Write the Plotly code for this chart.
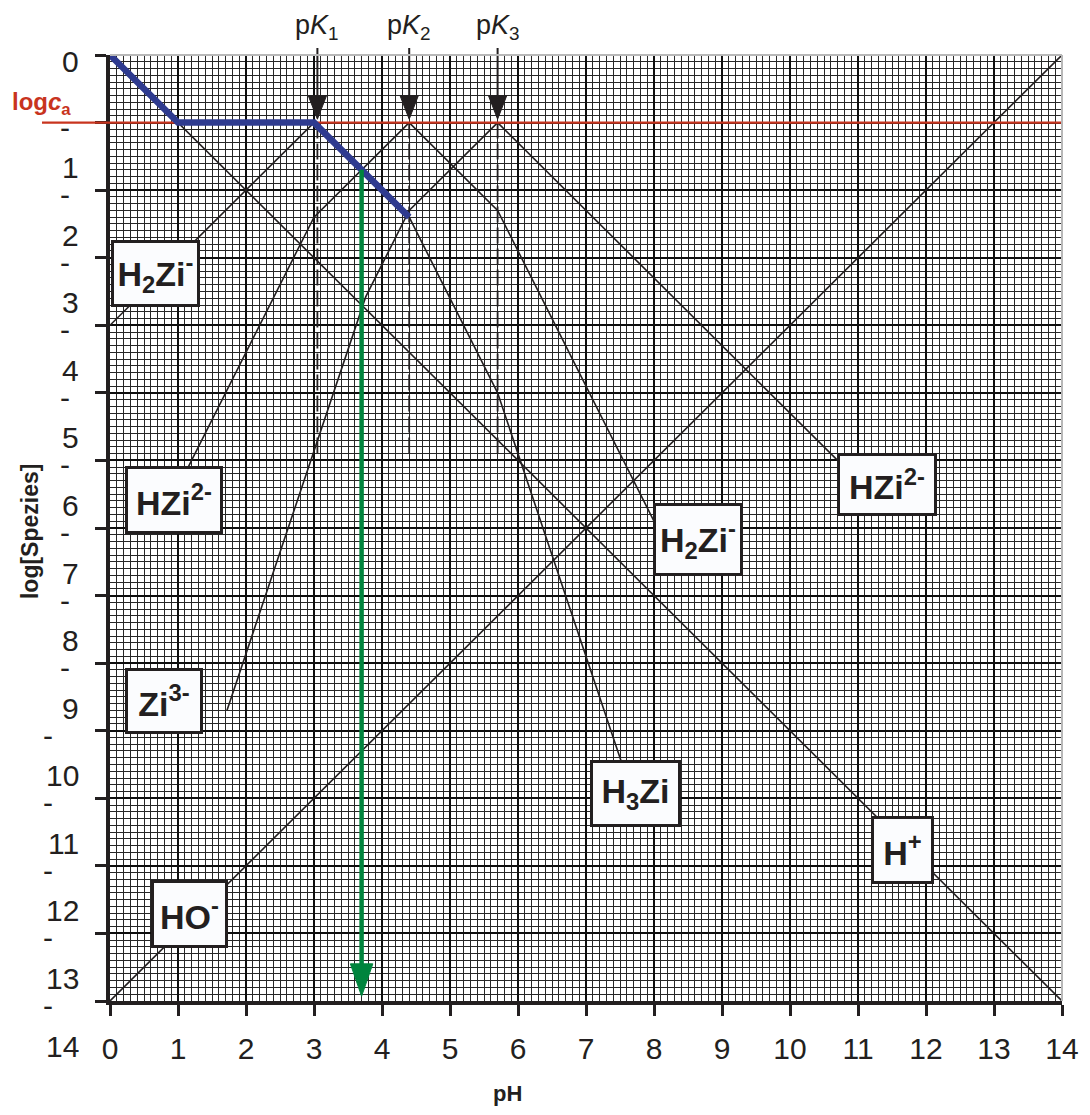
import plotly.graph_objects as go

# ---------------- data ----------------
pK = [3.0, 4.4, 5.7]                # pK1, pK2, pK3 (break points of the lines)
pk_arrow_x = [3.05, 4.4, 5.7]       # where the pK arrows / dashed markers stand
pk_names = ["1", "2", "3"]
log_ca = 1.0                        # log c_a level (drawn as depth 1)
pk_dash_bottom = 5.93               # lower end of dashed pK markers

x_tick_vals = list(range(0, 15))
y_tick_vals = list(range(0, 15))
y_tick_labels = [str(n) for n in range(0, 15)]

# blue: log c(H+) curve of the titration up to pK2
blue_x = [0.0, 1.0, 3.0, 4.4]
blue_y = [0.0, 1.0, 1.0, 2.4]

# species lines (black)
hplus_x = [0.0, 14.0]
hplus_y = [0.0, 14.0]
oh_x = [0.0, 14.0]
oh_y = [14.0, 0.0]
h3zi_x = [4.4, 5.7, 7.7]
h3zi_y = [2.4, 5.0, 11.0]
h2zi_left_x = [0.0, 3.0]
h2zi_left_y = [4.0, 1.0]
h2zi_right_x = [4.4, 5.7, 8.1]
h2zi_right_y = [1.0, 2.3, 7.1]
hzi_left_x = [4.4, 3.0, 1.1]
hzi_left_y = [1.0, 2.4, 6.2]
hzi_right_x = [5.7, 10.9]
hzi_right_y = [1.0, 6.2]
zi_x = [5.7, 4.4, 3.76, 1.72]
zi_y = [1.0, 2.3, 3.58, 9.7]

# green arrow (pH of the ampholyte)
green_x = (pK[0] + pK[1]) / 2
green_top = log_ca + (green_x - pK[0])
green_tip = 13.93

# species label boxes: text, x, y, width(px), height(px)
label_text = ["H<sub>2</sub>Zi<sup>-</sup>", "HZi<sup>2-</sup>", "Zi<sup>3-</sup>", "HO<sup>-</sup>",
              "H<sub>3</sub>Zi", "H<sup>+</sup>", "H<sub>2</sub>Zi<sup>-</sup>", "HZi<sup>2-</sup>"]
label_x = [0.676, 0.934, 0.80, 1.176, 7.735, 11.66, 8.65, 11.42]
label_y = [3.24, 6.58, 9.56, 12.71, 10.93, 11.76, 7.17, 6.36]
label_w = [86, 95, 75, 74, 88, 60, 87, 97]
label_h = [64, 65, 63, 65, 64, 65, 70, 60]

# ---------------- layout constants ----------------
W, H = 1090, 1115
ML, MR, MT, MB = 110, 28, 55, 114
PW, PH = W - ML - MR, H - MT - MB
Y_MAX = 14.0


def px_x(px):   # pixel x -> paper x
    return (px - ML) / PW


def px_y(py):   # pixel y -> paper y
    return (H - MB - py) / PH


def val_y(v):   # y data value -> paper y (reversed axis 0..14)
    return 1 - v / Y_MAX


FONT = "Liberation Sans, Arial, Helvetica, sans-serif"
INK = "#231f20"
BLUE = "#2e3a8f"
RED = "#c8341e"
GREEN = "#00843d"

fig = go.Figure()


def add_line(xs, ys, color=INK, width=1.6, dash=None):
    fig.add_trace(go.Scatter(x=xs, y=ys, mode="lines", hoverinfo="skip", showlegend=False,
                             line=dict(color=color, width=width, dash=dash)))


# black species lines
for xs, ys in [(hplus_x, hplus_y), (oh_x, oh_y), (h3zi_x, h3zi_y),
               (h2zi_left_x, h2zi_left_y), (h2zi_right_x, h2zi_right_y),
               (hzi_left_x, hzi_left_y), (hzi_right_x, hzi_right_y), (zi_x, zi_y)]:
    add_line(xs, ys)

# dashed pK markers
for xk in pk_arrow_x:
    add_line([xk, xk], [log_ca, pk_dash_bottom], width=1.8, dash="16px,5px")

# red log c_a line (inside plot)
add_line([0, 14], [log_ca, log_ca], color=RED, width=2.2)

# blue curve
add_line(blue_x, blue_y, color=BLUE, width=6.5)

# green arrow stem and head
head_len_g = 0.48
add_line([green_x, green_x], [green_top, green_tip - head_len_g + 0.05], color=GREEN, width=4.5)
fig.add_trace(go.Scatter(x=[green_x - 0.165, green_x + 0.165, green_x, green_x - 0.165],
                         y=[green_tip - head_len_g, green_tip - head_len_g, green_tip, green_tip - head_len_g],
                         mode="lines", fill="toself", fillcolor=GREEN, line=dict(color=GREEN, width=1),
                         hoverinfo="skip", showlegend=False))

# pK arrow heads (inside plot)
for xk in pk_arrow_x:
    fig.add_trace(go.Scatter(x=[xk - 0.135, xk + 0.135, xk, xk - 0.135],
                             y=[0.6, 0.6, 0.95, 0.6],
                             mode="lines", fill="toself", fillcolor=INK, line=dict(color=INK, width=1),
                             hoverinfo="skip", showlegend=False))

shapes = []
# pK arrow stems (extend above plot)
for xk in pk_arrow_x:
    shapes.append(dict(type="line", xref="x", yref="paper", x0=xk, x1=xk,
                       y0=px_y(48), y1=val_y(0.65),
                       line=dict(color=INK, width=2)))
# red line extension to the left of the axis
shapes.append(dict(type="line", xref="paper", yref="y", x0=px_x(42), x1=0, y0=log_ca, y1=log_ca,
                   line=dict(color=RED, width=2.2)))
# light grey top and right frame
shapes.append(dict(type="line", xref="paper", yref="paper", x0=0, x1=1, y0=1, y1=1,
                   line=dict(color="#b8b8b8", width=2)))
shapes.append(dict(type="line", xref="paper", yref="paper", x0=1, x1=1, y0=0, y1=1,
                   line=dict(color="#b8b8b8", width=2)))

annotations = []
# species label boxes
for t, x, y, w, h in zip(label_text, label_x, label_y, label_w, label_h):
    annotations.append(dict(text="<b>" + t + "</b>", x=x, y=y, xref="x", yref="y",
                            showarrow=False, xanchor="center", yanchor="middle",
                            width=w - 3, height=h - 3, align="center", valign="middle",
                            bgcolor="#fbfcfe", bordercolor=INK, borderwidth=3, borderpad=0,
                            font=dict(family=FONT, size=34, color=INK)))

# pK labels
for xk, nm in zip(pk_arrow_x, pk_names):
    annotations.append(dict(text="p<i>K</i><sub>" + nm + "</sub>", x=xk, y=px_y(27),
                            xref="x", yref="paper", showarrow=False,
                            xanchor="center", yanchor="middle",
                            font=dict(family=FONT, size=27, color=INK)))

# y tick labels (numbers shifted between the ticks, dashes at the ticks)
for v, lab in zip(y_tick_vals, y_tick_labels):
    ypos = 0.09 if v == 0 else v + 0.66
    annotations.append(dict(text=lab, x=px_x(81), y=val_y(ypos), xref="paper", yref="paper",
                            showarrow=False, xanchor="right", yanchor="middle", height=26,
                            font=dict(family=FONT, size=30, color=INK)))
    if v >= 1:
        annotations.append(dict(text="-", x=px_x(65 if v < 10 else 48), y=val_y(v + 0.06),
                                xref="paper", yref="paper", showarrow=False,
                                xanchor="center", yanchor="middle", height=12, valign="middle",
                                font=dict(family=FONT, size=30, color=INK)))

# log c_a label
annotations.append(dict(text="<b>log<i>c</i><sub>a</sub></b>", x=px_x(41), y=val_y(0.72),
                        xref="paper", yref="paper", showarrow=False,
                        xanchor="center", yanchor="middle",
                        font=dict(family=FONT, size=24, color=RED)))
# y title
annotations.append(dict(text="<b>log[Spezies]</b>", x=px_x(30), y=val_y(7.06), xref="paper", yref="paper",
                        showarrow=False, textangle=-90, xanchor="center", yanchor="middle",
                        font=dict(family=FONT, size=23, color=INK)))
# x title
annotations.append(dict(text="<b>pH</b>", x=5.84, y=px_y(1093), xref="x", yref="paper",
                        showarrow=False, xanchor="center", yanchor="middle",
                        font=dict(family=FONT, size=22, color=INK)))

fig.update_layout(
    width=W, height=H,
    margin=dict(l=ML, r=MR, t=MT, b=MB, pad=0),
    paper_bgcolor="white", plot_bgcolor="white",
    font=dict(family=FONT, color=INK),
    shapes=shapes, annotations=annotations,
    showlegend=False,
    xaxis=dict(range=[0, 14], tickmode="array", tickvals=x_tick_vals,
               ticktext=[str(v) for v in x_tick_vals],
               showgrid=True, gridcolor="#0d0d0d", gridwidth=2,
               minor=dict(tick0=0, dtick=0.1, showgrid=True, gridcolor="#262626", gridwidth=1),
               showline=True, linecolor=INK, linewidth=4,
               ticks="outside", ticklen=11, tickwidth=3, tickcolor=INK,
               tickfont=dict(family=FONT, size=30, color=INK), ticklabelstandoff=7,
               zeroline=False, fixedrange=True),
    yaxis=dict(range=[14, 0], tickmode="array", tickvals=y_tick_vals,
               showticklabels=False,
               showgrid=True, gridcolor="#0d0d0d", gridwidth=2,
               minor=dict(tick0=0, dtick=0.1, showgrid=True, gridcolor="#262626", gridwidth=1),
               showline=True, linecolor=INK, linewidth=4,
               ticks="outside", ticklen=11, tickwidth=3, tickcolor=INK,
               zeroline=False, fixedrange=True),
)

fig.write_html("out.html")
